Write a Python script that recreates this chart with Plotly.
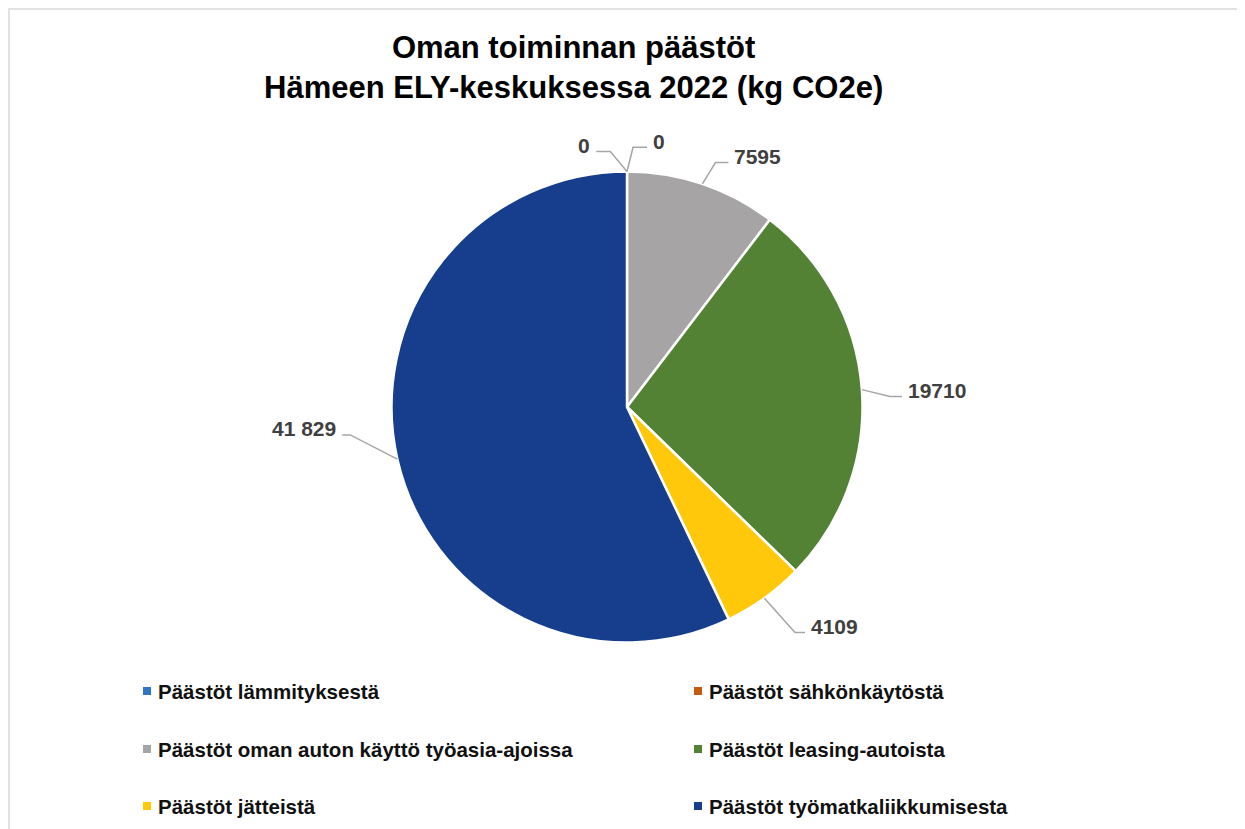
import math
import plotly.graph_objects as go

categories = [
    "Päästöt lämmityksestä",
    "Päästöt sähkönkäytöstä",
    "Päästöt oman auton käyttö työasia-ajoissa",
    "Päästöt leasing-autoista",
    "Päästöt jätteistä",
    "Päästöt työmatkaliikkumisesta",
]
values = [0, 0, 7595, 19710, 4109, 41829]
value_labels = ["0", "0", "7595", "19710", "4109", "41 829"]
slice_colors = ["#2E75C6", "#C55A11", "#A6A4A4", "#548235", "#FFC80A", "#173E8C"]

# label leader layout: (angle offset from slice mid-angle in degrees, leader length px, tail px)
leader_layout = [(-40, 26, 14), (14, 25, 14), (13, 25, 13), (18, 29, 12), (-6, 46, 10), (40, 53, 8)]

# page has an 8px body margin; work in page pixels and convert
OFF = 8
W, H = 1245 - OFF, 829 - OFF
CX, CY, R = 627, 407, 235.5

def px(x):
    return (x - OFF) / W

def py(y):
    return 1 - (y - OFF) / H

fig = go.Figure()
fig.add_trace(go.Pie(
    labels=categories,
    values=values,
    sort=False,
    direction="clockwise",
    rotation=0,
    textinfo="none",
    hoverinfo="label+value",
    marker=dict(colors=slice_colors, line=dict(color="white", width=2.5)),
    domain=dict(x=[px(CX - R), px(CX + R)], y=[py(CY + R), py(CY - R)]),
    showlegend=False,
))

shapes = []
annotations = []

# data labels with leader lines, positioned from slice mid-angles
total = sum(values)
cum = 0.0
for v, lab, (dang, L, tail) in zip(values, value_labels, leader_layout):
    mid = (cum + v / 2) / total * 2 * math.pi
    cum += v
    ex, ey = CX + R * math.sin(mid), CY - R * math.cos(mid)
    ang = mid + math.radians(dang)
    bx, by = ex + L * math.sin(ang), ey - L * math.cos(ang)
    side = 1 if math.sin(ang) >= 0 else -1
    hx = bx + side * tail
    shapes.append(dict(
        type="path", xref="paper", yref="paper",
        path=f"M {px(ex)} {py(ey)} L {px(bx)} {py(by)} L {px(hx)} {py(by)}",
        line=dict(color="#A6A6A6", width=1.5),
    ))
    annotations.append(dict(
        x=px(hx + side * 4), y=py(by - 6), xref="paper", yref="paper",
        text=f"<b>{lab}</b>", showarrow=False,
        xanchor="left" if side > 0 else "right", yanchor="middle",
        font=dict(family="Liberation Sans, Arial", size=21, color="#404040"),
    ))

# legend drawn as two columns
leg_cols = [147, 698]
leg_rows = [691, 749, 806]
for i, (cat, col) in enumerate(zip(categories, slice_colors)):
    lx = leg_cols[i % 2]
    ly = leg_rows[i // 2]
    s = 4
    shapes.append(dict(
        type="rect", xref="paper", yref="paper",
        x0=px(lx - s), x1=px(lx + s), y0=py(ly + s), y1=py(ly - s),
        fillcolor=col, line=dict(width=0),
    ))
    annotations.append(dict(
        x=px(lx + 9), y=py(ly), xref="paper", yref="paper",
        text=f"<b>{cat}</b>", showarrow=False, xanchor="left", yanchor="middle",
        font=dict(family="Liberation Sans, Arial", size=20.5, color="#111111"),
    ))

# title
annotations.append(dict(
    x=px(573), y=py(67), xref="paper", yref="paper",
    text="<b>Oman toiminnan päästöt<br>Hämeen ELY-keskuksessa 2022 (kg CO2e)</b>",
    showarrow=False, xanchor="center", yanchor="middle",
    font=dict(family="Liberation Sans, Arial", size=31, color="#000000"),
))

# chart frame
shapes.append(dict(
    type="rect", xref="paper", yref="paper",
    x0=px(9), x1=px(1244), y0=py(860), y1=py(9),
    line=dict(color="#D9D9D9", width=1.5), fillcolor="rgba(0,0,0,0)", layer="below",
))

fig.update_layout(
    width=W, height=H,
    margin=dict(l=0, r=0, t=0, b=0),
    paper_bgcolor="white",
    plot_bgcolor="white",
    shapes=shapes,
    annotations=annotations,
    showlegend=False,
)

fig.write_html("out.html")
